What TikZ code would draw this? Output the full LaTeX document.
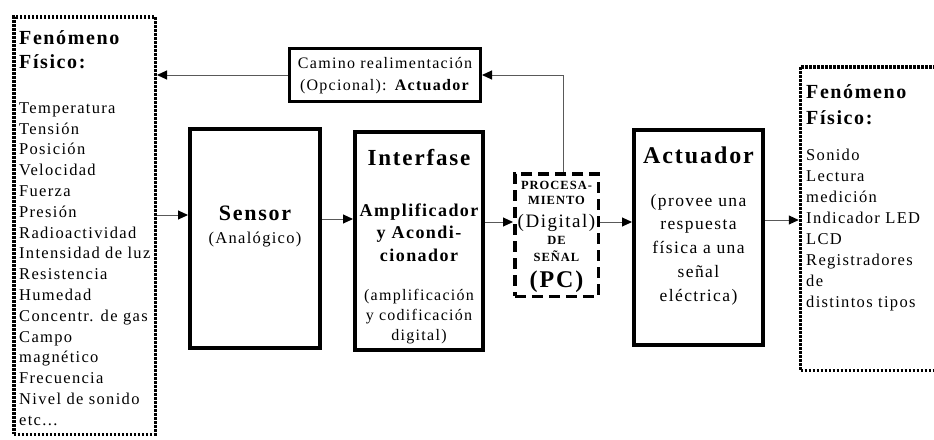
\documentclass[tikz,border=0pt]{standalone}
\usepackage{fontspec}
\setmainfont[LetterSpace=8]{Liberation Serif}
\usetikzlibrary{arrows.meta}
\tikzset{
  mainbox/.style={draw, line width=4pt, inner sep=0pt},
  dotbox/.style={draw, line width=3.5pt, dash pattern=on 2.6pt off 1.4pt},
  procbox/.style={draw, line width=3.5pt, dash pattern=on 11pt off 6pt},
  fbbox/.style={draw, line width=3pt, inner sep=0pt},
  conn/.style={draw=gray!70!black, line width=1pt, -{Triangle[length=10pt,width=9pt,color=black]}},
  txt/.style={inner sep=0pt, align=center},
  ltxt/.style={inner sep=0pt, align=left},
}
\newcommand{\fsz}[2]{\fontsize{#1}{#2}\selectfont}
\begin{document}
\begin{tikzpicture}[x=1pt,y=-1pt]
\useasboundingbox (0,0) rectangle (934,439);
% boxes
\node[dotbox, minimum width=141.5, minimum height=417.5] (L) at (84.5,225.5) {};
\node[mainbox, minimum width=130, minimum height=219] (S) at (255,238.5) {};
\node[mainbox, minimum width=128, minimum height=218] (I) at (419,241) {};
\node[procbox, minimum width=83.5, minimum height=122.5] (P) at (556.5,235) {};
\node[mainbox, minimum width=129, minimum height=215] (A) at (698.5,237.5) {};
\node[dotbox, minimum width=148, minimum height=303.5] (R) at (874.5,218.5) {};
\node[fbbox, minimum width=191, minimum height=53] (FB) at (385,75) {};
% left texts
\node[ltxt, anchor=west, font=\bfseries\fsz{20}{24}] (Lh) at (19,50) {Fenómeno\\Físico:};
\node[ltxt, anchor=west, font=\fsz{16.5}{20.8}] (Ll) at (19,264) {Temperatura\\Tensión\\Posición\\Velocidad\\Fuerza\\Presión\\Radioactividad\\Intensidad de luz\\Resistencia\\Humedad\\Concentr. de gas\\Campo\\magnético\\Frecuencia\\Nivel de sonido\\etc...};
% feedback text
\node[txt, font=\fsz{16}{22}] (FBt) at (385,76) {Camino realimentación\\(Opcional): \textbf{Actuador}};
% sensor
\node[txt, font=\bfseries\fsz{22}{26}] (St) at (255,213) {Sensor};
\node[txt, font=\fsz{16.5}{20}] (Ss) at (255,240) {(Analógico)};
% interfase
\node[txt, font=\bfseries\fsz{23}{26}] (It) at (419,158) {Interfase};
\node[txt, font=\bfseries\fsz{18}{22.5}] (Ib) at (419,232.5) {Amplificador\\y Acondi-\\cionador};
\node[txt, font=\fsz{16}{20}] (Ir) at (419,317) {(amplificación\\y codificación\\digital)};
% procesamiento
\node[txt, font=\bfseries\fsz{12.5}{15}] (P1) at (556.5,192.5) {PROCESA-\\MIENTO};
\node[txt, font=\fsz{19}{22}] (P2) at (556.5,223) {(Digital)};
\node[txt, font=\bfseries\fsz{12.5}{17}] (P3) at (556.5,248.5) {DE\\SEÑAL};
\node[txt, font=\bfseries\fsz{24}{28}] (P4) at (556.5,282) {(PC)};
% actuador
\node[txt, font=\bfseries\fsz{24}{28}] (At) at (698.5,155) {Actuador};
\node[txt, font=\fsz{17.5}{23.75}] (Ab) at (698.5,249.5) {(provee una\\respuesta\\física a una\\señal\\eléctrica)};
% right texts
\node[ltxt, anchor=west, font=\bfseries\fsz{20}{26}] (Rh) at (806,105) {Fenómeno\\Físico:};
\node[ltxt, anchor=west, font=\fsz{16.5}{21}] (Rl) at (806,230.5) {Sonido\\Lectura\\medición\\Indicador LED\\LCD\\Registradores\\de\\distintos tipos};
% connector levels
\coordinate (y1) at (0,215);
\coordinate (y2) at (0,219);
\coordinate (y3) at (0,222);
\coordinate (y4) at (0,220);
\coordinate (fbx) at (563,0);
\draw[conn] (L.east |- y1) -- (S.west |- y1);
\draw[conn] (S.east |- y2) -- (I.west |- y2);
\draw[conn] (I.east |- y3) -- (P.west |- y3);
\draw[conn] (P.east |- y3) -- (A.west |- y3);
\draw[conn] (A.east |- y4) -- (R.west |- y4);
\draw[conn] (P.north -| fbx) |- (FB.east);
\draw[conn] (FB.west) -- (FB.west -| L.east);
\end{tikzpicture}
\end{document}
